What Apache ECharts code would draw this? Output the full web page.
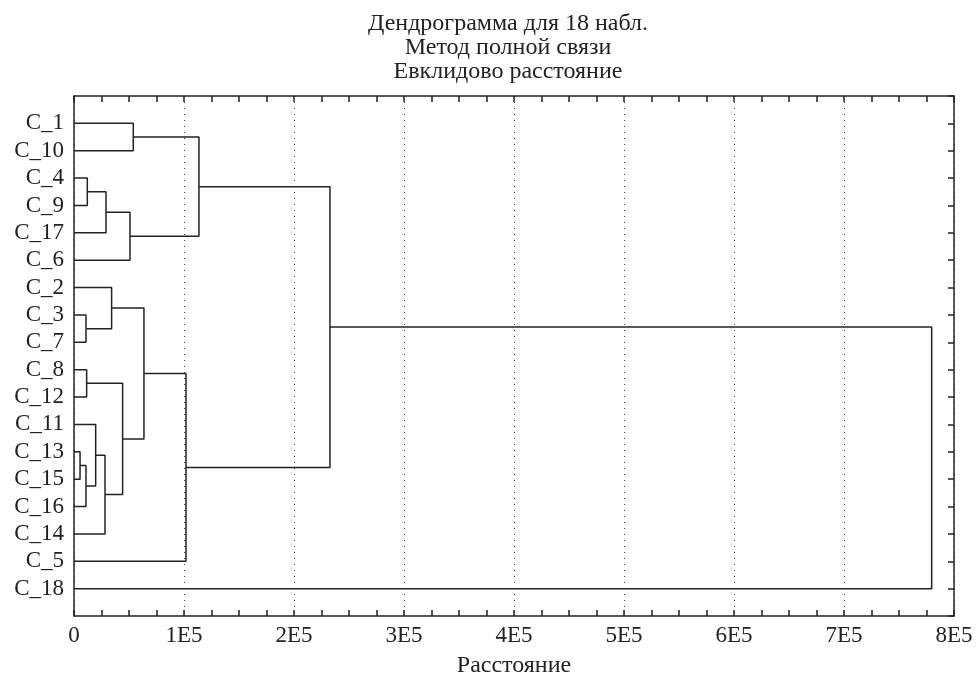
<!DOCTYPE html>
<html>
<head>
<meta charset="utf-8">
<script src="https://cdn.jsdelivr.net/npm/echarts@6/dist/echarts.min.js"></script>
<style>
  html, body { margin: 0; padding: 0; background: #fff; }
  #main { width: 977px; height: 674px; }
</style>
</head>
<body>
<div id="main"></div>
<script>
// листья в порядке сверху вниз
var leaves = ['C_1', 'C_10', 'C_4', 'C_9', 'C_17', 'C_6', 'C_2', 'C_3', 'C_7',
  'C_8', 'C_12', 'C_11', 'C_13', 'C_15', 'C_16', 'C_14', 'C_5', 'C_18'];

// объединения: [узел A, узел B, расстояние]; узлы 0..17 - листья, 18+ - кластеры
var mergeA = [12, 7, 18, 9, 2, 11, 23, 22, 6, 21, 25, 0, 26, 30, 29, 32, 33];
var mergeB = [13, 8, 14, 10, 3, 20, 15, 4, 19, 24, 5, 1, 27, 16, 28, 31, 17];
var mergeH = [5500, 10900, 10900, 11500, 12100, 19700, 28200, 29100, 34200,
  44200, 50900, 53900, 63600, 101800, 113600, 232700, 779700];

var xTicks = ['0', '1E5', '2E5', '3E5', '4E5', '5E5', '6E5', '7E5', '8E5'];

var font = 'Liberation Serif, Times New Roman, serif';
var lineColor = '#222';

// позиции узлов (y - номер листа, x - высота объединения)
var nodeY = leaves.map(function (d, i) { return i + 1; });
var nodeX = leaves.map(function () { return 0; });
var links = [];
for (var i = 0; i < mergeH.length; i++) {
  var a = mergeA[i], b = mergeB[i], h = mergeH[i];
  links.push([[nodeX[a], nodeY[a]], [h, nodeY[a]], [h, nodeY[b]], [nodeX[b], nodeY[b]]]);
  nodeY.push((nodeY[a] + nodeY[b]) / 2);
  nodeX.push(h);
}

var series = links.map(function (pts) {
  return {
    type: 'line',
    data: pts,
    symbol: 'none',
    silent: true,
    animation: false,
    lineStyle: { color: lineColor, width: 1.5 }
  };
});

var tickStyle = { color: '#222', width: 1.5 };

var chart = echarts.init(document.getElementById('main'));
chart.setOption({
  backgroundColor: '#fff',
  animation: false,
  title: {
    text: 'Дендрограмма для 18 набл.\nМетод полной связи\nЕвклидово расстояние',
    left: 503,
    top: 7,
    textAlign: 'center',
    textStyle: {
      fontFamily: font,
      fontSize: 24,
      fontWeight: 'normal',
      color: '#222',
      lineHeight: 24
    }
  },
  grid: { left: 74, right: 23, top: 96, bottom: 58, outerBoundsMode: 'none', containLabel: false },
  xAxis: [{
    type: 'value',
    position: 'bottom',
    min: 0,
    max: 800000,
    interval: 100000,
    name: 'Расстояние',
    nameLocation: 'middle',
    nameGap: 38,
    nameTextStyle: { fontFamily: font, fontSize: 24, color: '#222' },
    axisLine: { onZero: false, lineStyle: tickStyle },
    axisTick: { inside: true, length: 6, lineStyle: tickStyle },
    minorTick: { show: true, splitNumber: 4, length: 6, lineStyle: tickStyle },
    axisLabel: {
      margin: 8,
      fontFamily: font,
      fontSize: 23,
      color: '#222',
      formatter: function (v) { return xTicks[Math.round(v / 100000)]; }
    },
    splitLine: { show: true, lineStyle: { color: '#444', type: [1, 5], width: 1 } }
  }, {
    type: 'value',
    position: 'top',
    min: 0,
    max: 800000,
    interval: 100000,
    axisLine: { onZero: false, lineStyle: tickStyle },
    axisTick: { inside: true, length: 6, lineStyle: tickStyle },
    minorTick: { show: true, splitNumber: 4, length: 6, lineStyle: tickStyle },
    axisLabel: { show: false },
    splitLine: { show: false }
  }],
  yAxis: [{
    type: 'value',
    position: 'left',
    min: 0,
    max: 19,
    interval: 1,
    inverse: true,
    axisLine: { show: true, onZero: false, lineStyle: tickStyle },
    axisTick: { show: false },
    axisLabel: {
      margin: 10,
      fontFamily: font,
      fontSize: 23,
      color: '#222',
      formatter: function (v) { return leaves[v - 1] || ''; }
    },
    splitLine: { show: false }
  }, {
    type: 'value',
    position: 'right',
    min: 0,
    max: 19,
    interval: 1,
    inverse: true,
    axisLine: { show: true, onZero: false, lineStyle: tickStyle },
    axisTick: { inside: true, length: 6, lineStyle: tickStyle },
    axisLabel: { show: false },
    splitLine: { show: false }
  }],
  series: series
});
</script>
</body>
</html>
